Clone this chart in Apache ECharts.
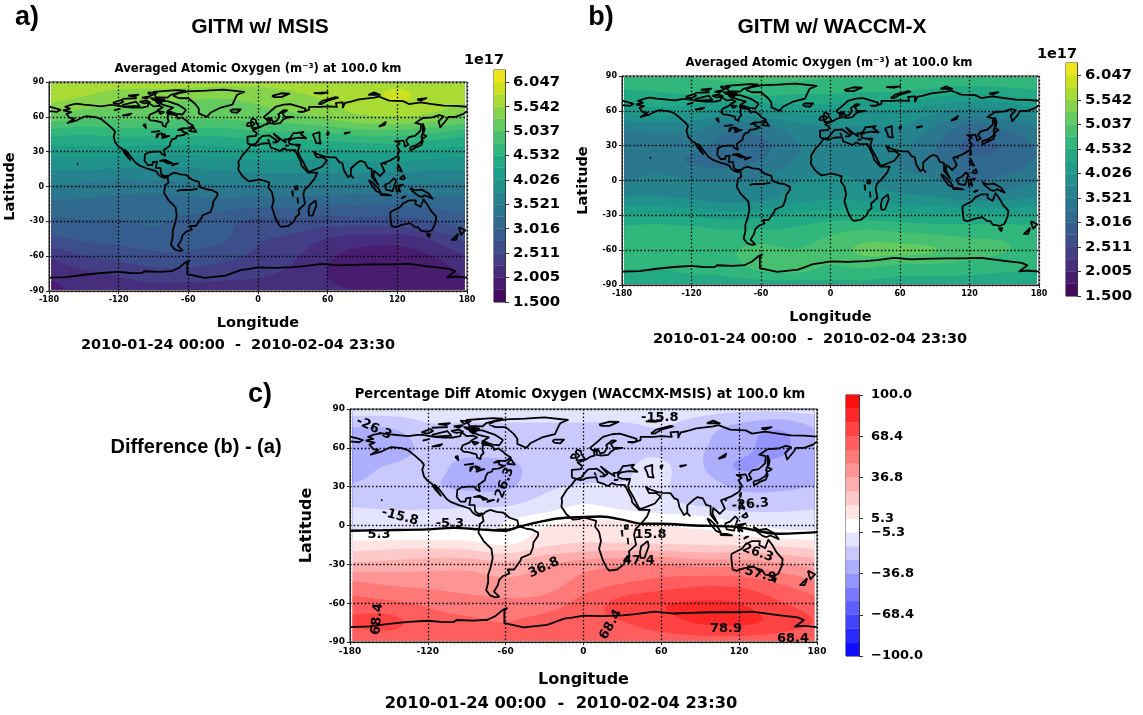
<!DOCTYPE html>
<html><head><meta charset="utf-8">
<style>html,body{margin:0;padding:0;background:#fff}#c{width:1143px;height:715px;filter:blur(0.35px)}</style>
<script src="https://cdn.jsdelivr.net/npm/echarts@6/dist/echarts.min.js"></script>
</head><body><div id="c"></div>
<script>
// ---- read-off grid ----
const lons=[-178,-150,-120,-90,-60,-30,0,30,60,90,120,150,178];
const latsAB=[89,75,60,45,30,15,0,-15,-30,-45,-60,-75,-89];
const latsC=[89,75,60,45,30,15,5,-5,-15,-30,-45,-60,-75,-89];
const fieldA=[
[5.68,5.66,5.62,5.65,5.65,5.62,5.6,5.62,5.68,5.72,5.76,5.7,5.66],
[5.6,5.5,5.4,5.35,5.3,5.28,5.35,5.45,5.56,5.7,5.82,5.7,5.6],
[5.2,5.1,5.1,5.1,5.1,5.1,5.15,5.2,5.35,5.5,5.55,5.45,5.25],
[4.6,4.55,4.6,4.6,4.6,4.6,4.7,4.7,4.75,4.85,4.85,4.75,4.6],
[4.15,4.15,4.15,4.1,4.1,4.15,4.2,4.2,4.2,4.25,4.3,4.2,4.15],
[3.8,3.8,3.75,3.75,3.75,3.8,3.85,3.85,3.85,3.85,3.85,3.8,3.8],
[3.5,3.45,3.4,3.4,3.45,3.5,3.5,3.5,3.5,3.45,3.45,3.45,3.45],
[3.2,3.2,3.15,3.1,3.15,3.15,3.1,3.1,3.05,3.05,3.05,3.1,3.15],
[2.95,3.0,3.0,3.05,2.95,2.85,2.7,2.7,2.65,2.65,2.65,2.75,2.9],
[2.7,2.8,2.85,2.9,2.85,2.8,2.55,2.45,2.25,2.15,2.15,2.3,2.6],
[2.3,2.5,2.6,2.7,2.7,2.6,2.45,2.3,2.05,1.9,1.85,2.0,2.25],
[2.05,2.2,2.3,2.4,2.4,2.35,2.3,2.2,2.0,1.87,1.82,1.85,2.05],
[1.95,2.05,2.1,2.15,2.15,2.15,2.15,2.1,2.05,2.0,2.0,1.95,1.95]];
const fieldB=[
[4.8,4.8,4.8,4.85,4.85,4.85,4.8,4.8,4.8,4.8,4.8,4.8,4.8],
[4.45,4.5,4.55,4.55,4.6,4.55,4.55,4.5,4.5,4.4,4.3,4.35,4.45],
[4.1,4.2,4.1,3.95,4.0,4.1,4.1,4.0,4.0,3.85,3.7,3.75,3.95],
[3.55,3.6,3.6,3.35,3.4,3.65,3.75,3.75,3.75,3.5,3.15,3.3,3.5],
[3.35,3.4,3.35,3.2,3.2,3.5,3.6,3.65,3.6,3.3,2.95,3.05,3.3],
[3.35,3.4,3.25,3.2,3.3,3.55,3.65,3.65,3.5,3.3,3.1,3.15,3.3],
[3.5,3.6,3.55,3.5,3.55,3.75,3.85,3.75,3.65,3.55,3.25,3.35,3.5],
[3.8,3.8,3.75,3.65,3.7,3.9,4.0,3.95,3.85,3.8,3.7,3.7,3.8],
[4.3,4.3,4.25,4.15,4.2,4.35,4.4,4.4,4.35,4.3,4.3,4.3,4.3],
[4.65,4.7,4.65,4.6,4.6,4.6,4.75,4.85,4.8,4.75,4.7,4.7,4.65],
[4.7,4.7,4.7,4.75,4.85,4.8,4.9,5.1,5.1,5.05,4.9,4.8,4.7],
[4.55,4.55,4.6,4.65,4.85,4.9,4.75,4.8,4.7,4.7,4.65,4.6,4.55],
[4.35,4.35,4.4,4.4,4.4,4.4,4.45,4.45,4.4,4.4,4.4,4.35,4.35]];
const fieldC=[
[-10,-10,-10,-10,-10,-10,-10,-10,-10,-12,-14,-14,-12],
[-27,-27,-18,-18,-18,-18,-18,-18,-16,-22,-30,-36,-26],
[-30,-35,-22,-22,-20,-20,-20,-18,-18,-25,-33,-40,-26],
[-32,-25,-22,-30,-30,-20,-18,-17,-14,-25,-38,-33,-30],
[-25,-22,-25,-28,-28,-18,-15,-15,-15,-20,-28,-28,-26],
[-16.5,-18,-18,-17,-16,-10,-4,-8,-13,-16,-20,-20,-18],
[-7,-8,-8,-8,-6,0,5.5,4,2,-2,-8,-10,-9],
[-4.5,-4,-4,-3,-4,8,9,9,8,7,3,-3,-4],
[10,11,12,10,5,14,18,18,17,16,15,14,11],
[28,30,32,33,29,36,42,46,48,44,44,39,33],
[50,46,44,42,40,42,52,58,62,66,65,58,50],
[62,60,56,52,50,52,62,72,78,80,79,70,62],
[70,72,62,60,58,62,66,68,74,80,81,76,68],
[58,60,60,60,60,60,62,62,62,63,63,60,58]];
// ---- colour levels ----
const levelsAB=[1.5,1.7526,2.0053,2.2579,2.5105,2.7632,3.0158,3.2684,3.5211,3.7737,4.0263,4.2789,4.5316,4.7842,5.0368,5.2895,5.5421,5.7947,6.0474,6.3];
const colorsAB=['#460a5d','#481c6e','#472e7c','#433e85','#3c4f8a','#365d8d','#306a8e','#2b778e','#25838e','#21918c','#1e9d89','#23a983','#31b67b','#47c06f','#63cb5f','#85d44c','#a8db34','#cce11f','#eee51f'];
const levelsC=[-100,-89.47,-78.95,-68.42,-57.89,-47.37,-36.84,-26.32,-15.79,-5.26,5.26,15.79,26.32,36.84,47.37,57.89,68.42,78.95,89.47,100];
const colorsC=['#0e0eff','#2828ff','#4343ff','#5e5eff','#7979ff','#9494ff','#aeaeff','#c9c9ff','#e4e4ff','#ffffff','#ffe4e4','#ffc9c9','#ffaeae','#ff9494','#ff7979','#ff5e5e','#ff4343','#ff2828','#ff0e0e'];
const ticksAB=[1.5,2.005,2.511,3.016,3.521,4.026,4.532,5.037,5.542,6.047];
const ticksC=[-100,-68.4,-36.8,-5.3,5.3,36.8,68.4,100];
// ---- contour labels of panel c: lon, lat, text, rotation ----
const contourLabels=[
[-161.5,75,'-26.3',-25],[-61.4,31,'-26.3',70],[-141.5,6.7,'-15.8',-15],[-103,1.5,'-5.3',0],[-157.6,-6.7,'5.3',0],
[-30.5,-32.6,'36.8',25],[-159,-72.3,'68.4',85],[21,-76.6,'68.4',60],[58.8,83.3,'-15.8',0],[128.6,16.2,'-26.3',5],
[51.6,-7,'15.8',0],[134.3,-21.2,'26.3',-20],[42.6,-26.9,'47.4',0],[136.3,-38,'57.9',-15],[109.9,-79.5,'78.9',0],[161.5,-87.5,'68.4',0]];
const zeroLine=[[-180,-4],[-150,-3.6],[-120,-3],[-100,-1.8],[-80,-3],[-60,-4],[-50,-1],[-40,1.5],[-20,5.4],[0,6.6],[13,7],[30,4.5],[45,1.3],[60,1.3],[85,0],[119.6,-1.3],[149,-6.4],[180,-5.1]];
// ---- coastlines (lon,lat) ----
const northAmerica=[[-168,65.6],[-164,66.5],[-162,67],[-166,68.5],[-162,70],[-156.5,71.3],[-150,70.5],[-141,69.7],[-135,69],[-128,70],[-124,70],[-115,68.5],[-108,68],[-100,68],[-95,69],[-94,72],[-90,69],[-85,69.5],[-82,68],[-86,66],[-88,64],[-93,62],[-94.5,59],[-92.5,57],[-88,56.5],[-82.5,55],[-82,52.5],[-79.5,51.3],[-79,54],[-77,56],[-78,59],[-77.5,62.4],[-73,62],[-70,61],[-69,58.5],[-65.5,59.5],[-62,57],[-60,55],[-56,52.5],[-60,50],[-66,50],[-69,48.5],[-65,49],[-65,47],[-61,46],[-64,44.5],[-66,44],[-70,43.5],[-70.5,41.7],[-74,40.5],[-75.5,37.5],[-76,35],[-81,31.5],[-80,26.5],[-81,25],[-82.8,28],[-84,30],[-89,30],[-90,29],[-94,29.5],[-97.3,27.5],[-97.7,22],[-95,18.5],[-91,18.5],[-90.5,21],[-87,21.5],[-88,16],[-84,15.8],[-83.5,11],[-81,9],[-78,9.4],[-77.5,8],[-80,7.3],[-83,8.2],[-85.5,10],[-87.5,13],[-92,14.5],[-96,15.7],[-102,18],[-105.5,20.5],[-109,25],[-112,29],[-114.8,31.5],[-112,26],[-110,23],[-114.5,28],[-117,32.5],[-120,34.3],[-123,38],[-124.3,43],[-123,47],[-125,49.5],[-130,54],[-135,58],[-140,59.7],[-148,60.5],[-151,59.5],[-156,57],[-164,54.7],[-158,58.5],[-162,59],[-165,62.5],[-161,64],[-168,65.6]];
const southAmerica=[[-78,8],[-77,3.5],[-80,1],[-80.5,-3],[-81,-5.5],[-77,-12],[-71,-18],[-70,-25],[-71.5,-32],[-73.5,-38],[-73.5,-44],[-75,-50],[-72,-54],[-68,-55.5],[-65,-55],[-69,-51],[-66,-46],[-65,-42],[-62,-39],[-57,-37],[-58.5,-34],[-53.5,-34],[-48.5,-27],[-48,-25],[-41,-22],[-39,-17],[-38.5,-13],[-35,-8],[-35,-5.5],[-40,-3],[-44,-2.5],[-50,-0.5],[-51,4],[-57,6],[-62,10],[-67,10.5],[-72,12],[-75.5,10.5],[-78,8]];
const amazon=[[-70,-3.7],[-65,-3],[-58,-3],[-52,-2]];
const africa=[[-6,35.8],[-2,35.1],[3,36.8],[10,37.3],[11,33.5],[15,32.3],[19,30.5],[22,32.8],[25,31.6],[32,31.2],[32.5,30],[34,27],[37,21],[37.5,18],[43,12],[44,11],[51,12],[49,7],[44,1],[40,-3],[39,-7],[40.5,-15],[35,-20],[35.5,-24],[32.8,-26],[31,-30],[26,-34],[20,-34.8],[18,-33],[15,-27],[12,-18],[13.5,-12],[12,-5],[9,-1],[9.7,3.5],[5,5],[1,6],[-4,5],[-8,4.5],[-13,8.5],[-17,14.5],[-16.5,19],[-17,21],[-13,27.5],[-9.5,31],[-6,35.8]];
const eurasia=[[-9,37],[-9,43],[-2,43.5],[-1,46],[-4.5,48.5],[2,51],[5,53],[8.5,54],[8,57],[10.5,57.5],[10,54.5],[14,54],[19,54.5],[21,57],[24,59],[30,60],[23,60],[21,63],[25,65.5],[22,65.8],[17.5,62],[18.5,60],[16,56.5],[13,55.5],[11,59],[7,58],[5,60],[10,64],[15,68.5],[22,70.5],[28,71],[41,67],[40,64.5],[34.5,64.5],[38,64],[44,66],[44,68.5],[54,68.5],[60,69],[68,68.5],[67,72],[73,72.5],[73,68],[75,72],[80,73],[87,75],[100,76.5],[104,77.5],[113,74],[125,73.5],[130,71],[140,72.5],[150,71],[160,69.7],[170,69.5],[180,68.7]];
const eurasiaSouth=[[180,65],[177,62.5],[170,60],[164,60],[162,57],[163,56],[157,51],[155.5,56],[160,60.5],[156,61.5],[150,59.5],[142,59],[135.5,54.7],[140.5,53.5],[140,48],[135,43.5],[130,42.5],[127.5,39.5],[129.5,36],[126.5,34.5],[126,37.5],[125,39.5],[121,39],[118,39],[122,37],[119.5,35],[122,31],[120,26],[114,22.5],[110,21],[106,19.5],[109,13],[105,9],[103,11],[100,13.5],[99.5,9],[103.5,1.5],[100.5,5],[98,8.5],[98,15],[94.5,16],[92,21],[88,22],[85,20],[80,15.5],[80,10],[77.5,8],[74,14],[72.7,20],[70,21],[67,25],[61,25.2],[57,26],[56,27],[51,28],[48,30],[48.5,29],[50.5,25],[52,24],[56,25],[59.5,22.5],[55,17],[45,13],[43,13],[39,21],[35,28],[34.5,31],[36,36],[30,36],[27,37],[26.5,39.5],[29,41],[35,42],[41.5,41.5],[37,45],[39,47],[33,46],[30.5,46],[28,42],[26,40.8],[23,40.5],[24,38],[22.5,36.7],[19.5,41],[13.5,45.5],[12.5,44],[18.5,40],[16,38],[15.5,40],[10,44],[3.5,43.3],[0,39.5],[-2,36.8],[-5.5,36],[-9,37]];
const chukotka=[[-180,68.7],[-175,67.5],[-170,66],[-173,64.3],[-180,65]];
const antarctica=[[-180,-78.5],[-165,-78],[-150,-76],[-135,-74.5],[-120,-73.6],[-110,-74.5],[-100,-74.6],[-98,-73],[-85,-73.5],[-74,-72.8],[-68,-70],[-62,-65],[-59,-63.8],[-61,-66],[-61,-75.4],[-46,-78.7],[-28,-76.7],[-15,-72],[-7.5,-71],[0,-69.7],[15,-70],[30,-69.5],[40,-68.5],[55,-66.6],[70,-68],[80,-67.5],[100,-67],[115,-67],[130,-66.6],[150,-69.2],[165,-71],[170,-73],[163,-78.2],[170,-77.5],[180,-78.5]];
const greenland=[[-73,78.2],[-68,76],[-60,76],[-54,71],[-51,67],[-51,63],[-44,60],[-41,63.5],[-32,68],[-22,70.5],[-20,75],[-18,79],[-12,81.5],[-30,83.5],[-45,82.5],[-60,82],[-68,80.5],[-73,78.2]];
const australia=[[114,-22],[122,-18],[125,-14.5],[130,-12],[136,-12],[135.5,-15],[140,-17.5],[142.5,-11],[145.5,-15],[149,-21],[153.5,-26],[153,-31],[150,-37.5],[146.5,-39],[140,-38],[138,-35],[135,-34.8],[131,-31.5],[124,-33],[118,-35],[115,-34],[114,-26],[114,-22]];
const islands=[
[[-24,65.5],[-22,66.4],[-15,66.3],[-13.7,65],[-18,63.5],[-22.5,64],[-24,65.5]],
[[-5.5,50],[1.3,51.2],[1.7,52.7],[-1.5,55],[-2,57.5],[-5,58.6],[-6,56.5],[-3,54],[-5,52],[-5.5,50]],
[[-10,52],[-6,52.2],[-6,55],[-8.5,55],[-10,54],[-10,52]],
[[12,78],[20,80.3],[27,80],[20,77],[14,77],[12,78]],
[[52,71],[56,74],[67,77],[69,76.5],[60,74],[55,71],[52,71]],
[[-62,66],[-68,70],[-78,73.5],[-88,73.5],[-81,70],[-73,68],[-78,65],[-70,62.5],[-65,62],[-62,66]],
[[-62,82.5],[-70,83],[-90,81.5],[-88,77],[-78,76.5],[-75,79],[-62,82.5]],
[[-117,70],[-105,73],[-102,69.5],[-115,68.7],[-117,70]],
[[-125,72],[-118,74.5],[-116,73],[-120,71],[-125,72]],
[[-80,75],[-92,76],[-90,74.5],[-80,74.5],[-80,75]],
[[-117,75.5],[-105,76],[-106,75],[-117,75.5]],
[[-95,81],[-87,80.5],[-92,78.5],[-95,81]],
[[-102,73],[-96,74],[-93,72.5],[-98,71.5],[-102,73]],
[[-100,76.5],[-93,77.5],[-96,75.5],[-100,76.5]],
[[-88,73],[-82,73.5],[-85,71],[-88,73]],
[[-86,65],[-81,64],[-84,62.5],[-86,65]],
[[-79,63.5],[-75,64.5],[-73,63],[-79,63.5]],
[[-112,78.3],[-103,79],[-106,77.5],[-112,78.3]],
[[-59,47.7],[-56,51.5],[-53,47],[-59,47.7]],
[[-85,22],[-80,23],[-74.2,20.2],[-77.5,19.9],[-78.5,21.5],[-82,22.3],[-85,22]],
[[-74,19],[-69,19.8],[-68.5,18.5],[-74,18.2],[-74,19]],
[[-156,19.3],[-155,19.8],[-156,20.2],[-156,19.3]],
[[95,79],[105,79],[100,81],[95,79]],
[[137,75],[145,76],[140,74],[137,75]],
[[48,80.5],[60,81],[55,80],[48,80.5]],
[[49.5,-12],[50.3,-16],[47,-25],[44,-25],[43.5,-21],[44.5,-16],[49.5,-12]],
[[131,34],[136,35.5],[140,38],[141.5,41],[142,39],[140.5,35.5],[136,33.7],[131.5,31],[130,32.5],[131,34]],
[[140.5,42],[141.5,45.3],[145,43.5],[143,42],[140.5,42]],
[[142,46],[142,54],[143.5,50],[142.8,46.5],[142,46]],
[[120.2,23],[121.5,25.2],[121,22],[120.2,23]],
[[109,19],[110.5,20],[110,18.3],[109,19]],
[[120,16],[121,18.5],[122.2,17],[124,12.8],[121,14],[120,16]],
[[122,7],[125.5,9.7],[126.5,7],[124.5,6],[122,7]],
[[109,1.5],[113,3],[117,7],[119,5],[117.5,1],[116,-4],[110.5,-3],[109,1.5]],
[[95.3,5.5],[98,4],[104,-2],[106,-5.8],[102,-4],[98,1],[95.3,5.5]],
[[105.5,-6.5],[110,-6.5],[114.5,-7.7],[114,-8.6],[106,-7.5],[105.5,-6.5]],
[[119.5,-5],[119,0.5],[125,1.5],[121,0],[122.5,-4.5],[120.5,-3],[119.5,-5]],
[[131,-1],[135,-3.3],[141,-2.7],[147,-6],[150.5,-10.5],[144,-7.7],[141,-9],[138,-8],[133,-4],[131,-1]],
[[123.5,-10.3],[127,-8.5],[125,-9],[123.5,-10.3]],
[[80,9.5],[82,7.5],[80.5,6],[80,9.5]],
[[145,-41],[148.3,-41],[147.5,-43.5],[146,-43.5],[145,-41]],
[[173,-35],[178.5,-37.7],[175,-41.5],[174,-39],[173,-35]],
[[172.5,-40.7],[174,-42],[170.5,-46],[167,-46],[172.5,-40.7]],
[[-92,46.8],[-85,47.7],[-84.5,46.5],[-92,46.8]],
[[-87.5,41.7],[-85,45.5],[-87,45],[-87.5,41.7]],
[[-84,46],[-80,44.7],[-82,43],[-84,46]],
[[-83,41.5],[-79,42.8],[-76.5,43.5],[-79.5,43.3],[-83,41.5]],
[[-99,53],[-97,53.5],[-96.5,50.5],[-99,53]],
[[-124,65.5],[-119,66.8],[-118,65.5],[-124,65.5]],
[[-117,61],[-109,62.8],[-111,61.5],[-117,61]],
[[47,45],[53,46.8],[53,41],[54,37],[50,37.5],[49,41],[47,45]],
[[59,46],[61,46.5],[60,44],[59,46]],
[[104,51.5],[110,55.5],[109,53],[104,51.5]],
[[74,46],[79,46.7],[75,45.5],[74,46]],
[[32,0],[34,0.3],[34,-2.5],[32,-2.5],[32,0]],
[[29.3,-3.5],[30,-8],[31,-8],[29.7,-3.5]],
[[34,-9.5],[34.5,-14],[35,-13.5],[34,-9.5]],
[[12.5,38],[15.5,38],[15,36.8],[12.5,38]],
[[8.3,41],[9.7,41],[9.5,39],[8.3,41]],
[[23.5,35.5],[26.3,35.2],[24,35],[23.5,35.5]],
[[32.5,35],[34.5,35.6],[33.5,34.7],[32.5,35]]];
const coasts=[northAmerica,southAmerica,amazon,africa,eurasia,eurasiaSouth,chukotka,antarctica,greenland,australia,...islands];
// ---- tick labels ----
const lonTicks={min:-180,max:180,step:60};
const latTicks={min:-90,max:90,step:30};

// ---- layout ----
const panels=[
 {grid:{left:49,top:82,width:418,height:209},bar:{left:494,top:70,width:11,height:232},lats:latsAB,f:fieldA,lv:levelsAB,cs:colorsAB,ticks:ticksAB,fs:8,name:14.5,nameGapX:25,nameGapY:31,tick:14.9,digits:3,mg:8},
 {grid:{left:622,top:76,width:417,height:209},bar:{left:1066,top:63,width:11,height:233},lats:latsAB,f:fieldB,lv:levelsAB,cs:colorsAB,ticks:ticksAB,fs:8,name:14.5,nameGapX:25,nameGapY:31,tick:14.9,digits:3,mg:8},
 {grid:{left:350,top:409,width:467,height:233},bar:{left:846,top:395,width:13,height:261},lats:latsC,f:fieldC,lv:levelsC,cs:colorsC,ticks:ticksC,fs:9,name:16,nameGapX:30,nameGapY:35,tick:13,digits:1,mg:12}];

echarts.graphic.registerShape('bandPolys',echarts.graphic.extendShape({shape:{polys:[]},buildPath(ctx,s){s.polys.forEach(p=>{ctx.moveTo(p[0][0],p[0][1]);for(let i=1;i<p.length;i++)ctx.lineTo(p[i][0],p[i][1]);ctx.closePath();});}}));
function cr(a,b,c,d,t){return 0.5*(2*b+(c-a)*t+(2*a-5*b+4*c-d)*t*t+(3*b-a-3*c+d)*t*t*t);}
function resample(arr,sub){const o=[];const n=arr.length;for(let i=0;i<n-1;i++){for(let s=0;s<sub;s++){o.push(cr(arr[Math.max(i-1,0)],arr[i],arr[i+1],arr[Math.min(i+2,n-1)],s/sub));}}o.push(arr[n-1]);return o;}
function smooth(f,sub){const rows=f.map(r=>resample(r,sub));const w=rows[0].length;const cols=[];for(let j=0;j<w;j++){cols.push(resample(rows.map(r=>r[j]),sub));}
 return cols[0].map((_,i)=>cols.map(c=>c[i]));}
function clip(poly,level){const out=[];for(let i=0;i<poly.length;i++){const p=poly[i],q=poly[(i+1)%poly.length];const pi=p[2]>=level,qi=q[2]>=level;if(pi)out.push(p);if(pi!==qi){const t=(level-p[2])/(q[2]-p[2]);out.push([p[0]+t*(q[0]-p[0]),p[1]+t*(q[1]-p[1]),level]);}}return out;}
// filled regions "value >= level": painted lowest first so that bands stack without seams
function regions(lonList,latList,f,lv){const sub=5;const X=resample(lonList,sub),Y=resample(latList,sub),Z=smooth(f,sub);const res=lv.slice(0,-1).map(()=>[]);
 for(let r=0;r<Y.length-1;r++)for(let c=0;c<X.length-1;c++){const q=[[X[c],Y[r],Z[r][c]],[X[c+1],Y[r],Z[r][c+1]],[X[c+1],Y[r+1],Z[r+1][c+1]],[X[c],Y[r+1],Z[r+1][c]]];
  for(let b=0;b<lv.length-1;b++){const p=b===0?q:clip(q,lv[b]);if(p.length>=3)res[b].push(p.map(v=>[v[0],v[1]]));}}
 return res;}

const grids=[],xAxis=[],yAxis=[],series=[];
panels.forEach((P,k)=>{
 const gi=grids.length;
 grids.push({...P.grid,show:true,borderColor:'#222',borderWidth:1,backgroundColor:'transparent',containLabel:false});
 grids.push({...P.bar,show:true,borderColor:'#333',borderWidth:1,backgroundColor:'transparent',containLabel:false});
 xAxis.push({type:'value',gridIndex:gi,min:lonTicks.min,max:lonTicks.max,interval:lonTicks.step,z:10,name:'Longitude',nameLocation:'middle',nameGap:P.nameGapX,
  nameTextStyle:{fontFamily:'DejaVu Sans',fontWeight:'bold',fontSize:P.name,color:'#000'},
  axisLine:{onZero:false,lineStyle:{color:'#222',width:1}},axisTick:{length:3,lineStyle:{color:'#222'}},
  axisLabel:{fontFamily:'DejaVu Sans',fontWeight:'bold',fontSize:P.fs,color:'#000',margin:5,showMinLabel:true,showMaxLabel:true,hideOverlap:false},
  splitLine:{show:true,lineStyle:{color:'#000',type:[1.5,2.2],width:1.3}}});
 yAxis.push({type:'value',gridIndex:gi,min:latTicks.min,max:latTicks.max,interval:latTicks.step,z:10,name:'Latitude',nameLocation:'middle',nameGap:P.nameGapY,nameRotate:90,
  nameTextStyle:{fontFamily:'DejaVu Sans',fontWeight:'bold',fontSize:P.name,color:'#000'},
  axisLine:{onZero:false,lineStyle:{color:'#222',width:1}},axisTick:{length:3,lineStyle:{color:'#222'}},
  axisLabel:{fontFamily:'DejaVu Sans',fontWeight:'bold',fontSize:P.fs,color:'#000',margin:5,showMinLabel:true,showMaxLabel:true,hideOverlap:false},
  splitLine:{show:true,lineStyle:{color:'#000',type:[1.5,2.2],width:1.3}}});
 xAxis.push({type:'value',gridIndex:gi+1,min:0,max:1,show:false});
 yAxis.push({type:'value',gridIndex:gi+1,position:'right',min:P.lv[0],max:P.lv[P.lv.length-1],
  axisLine:{show:true,onZero:false,lineStyle:{color:'#333'}},axisTick:{show:true,length:4,customValues:P.ticks,lineStyle:{color:'#333'}},splitLine:{show:false},
  axisLabel:{show:true,customValues:P.ticks,margin:P.mg,fontFamily:'DejaVu Sans',fontWeight:'bold',fontSize:P.tick,color:'#000',
   showMinLabel:true,showMaxLabel:true,hideOverlap:false,formatter:v=>{const s=Math.abs(v).toFixed(P.digits);return (v<0?'\u2212':'')+s;}}});
 // contour field
 const regs=regions(lons,P.lats,P.f,P.lv);
 regs.forEach((polys,b)=>{
  if(!polys.length)return;
  series.push({type:'custom',xAxisIndex:gi,yAxisIndex:gi,coordinateSystem:'cartesian2d',silent:true,clip:true,animation:false,z:2,
   data:[[0]],encode:{x:[],y:[]},
   renderItem:(p,api)=>({type:'bandPolys',shape:{polys:polys.map(pl=>pl.map(pt=>api.coord(pt)))},style:{fill:P.cs[b]}})});
 });
 // colourbar
 series.push({type:'custom',xAxisIndex:gi+1,yAxisIndex:gi+1,silent:true,animation:false,z:2,
  data:P.cs.map((c,i)=>[i]),encode:{x:[],y:[]},
  renderItem:(p,api)=>{const i=p.dataIndex;const a=api.coord([0,P.lv[i]]),b=api.coord([1,P.lv[i+1]]);return {type:'rect',shape:{x:a[0],y:b[1],width:b[0]-a[0],height:a[1]-b[1]},style:{fill:P.cs[i],stroke:P.cs[i],lineWidth:0.3}};}});
 // coastlines
 coasts.forEach(c=>series.push({type:'line',xAxisIndex:gi,yAxisIndex:gi,data:c,showSymbol:false,symbol:'none',silent:true,animation:false,z:20,clip:true,lineStyle:{color:'#000',width:1.8,join:'round'}}));
 if(k==2){
  series.push({type:'line',xAxisIndex:gi,yAxisIndex:gi,data:zeroLine,showSymbol:false,symbol:'none',smooth:0.3,silent:true,animation:false,z:21,lineStyle:{color:'#000',width:2.4}});
  series.push({type:'scatter',xAxisIndex:gi,yAxisIndex:gi,data:contourLabels.map(l=>({value:[l[0],l[1]],label:{show:true,position:'inside',formatter:l[2],rotate:l[3],fontFamily:'DejaVu Sans',fontSize:13,fontWeight:'bold',color:'#000',opacity:1,textBorderWidth:0,textBorderColor:'transparent'}})),symbolSize:1,itemStyle:{color:'#000',opacity:1},silent:true,animation:false,clip:false,z:22});
 }
});
const T=(text,x,y,font,rot)=>({type:'text',x,y,rotation:rot||0,z:100,silent:true,style:{text,font,textAlign:'center',textVerticalAlign:'middle',fill:'#000'}});
const H='"Liberation Sans",Arial,sans-serif',D='"DejaVu Sans",sans-serif';
const graphic=[
 T('a)',27,18,'bold 27px '+H),T('b)',601,18,'bold 27px '+H),T('c)',260,395,'bold 27px '+H),
 T('GITM w/ MSIS',260,27,'bold 21px '+H),T('GITM w/ WACCM-X',832,27,'bold 21px '+H),
 T('Averaged Atomic Oxygen (m\u207b\u00b3) at 100.0 km',258,69,'bold 11.7px '+D),
 T('Averaged Atomic Oxygen (m\u207b\u00b3) at 100.0 km',829,63,'bold 11.7px '+D),
 T('Percentage Diff Atomic Oxygen (WACCMX-MSIS) at 100.0 km',580,395,'bold 13.2px '+D),
 T('1e17',484,60,'bold 14.5px '+D),T('1e17',1057,54,'bold 14.5px '+D),
 T('2010-01-24 00:00  -  2010-02-04 23:30',238,345,'bold 14.5px '+D),
 T('2010-01-24 00:00  -  2010-02-04 23:30',810,339,'bold 14.5px '+D),
 T('2010-01-24 00:00  -  2010-02-04 23:30',561,704,'bold 16.3px '+D),
 T('Difference (b) - (a)',196,447,'bold 20px '+H)];
const chart=echarts.init(document.getElementById('c'),null,{renderer:'canvas'});
chart.setOption({animation:false,backgroundColor:'#fff',grid:grids,xAxis,yAxis,series,graphic:{elements:graphic},tooltip:{show:false}});
</script></body></html>
